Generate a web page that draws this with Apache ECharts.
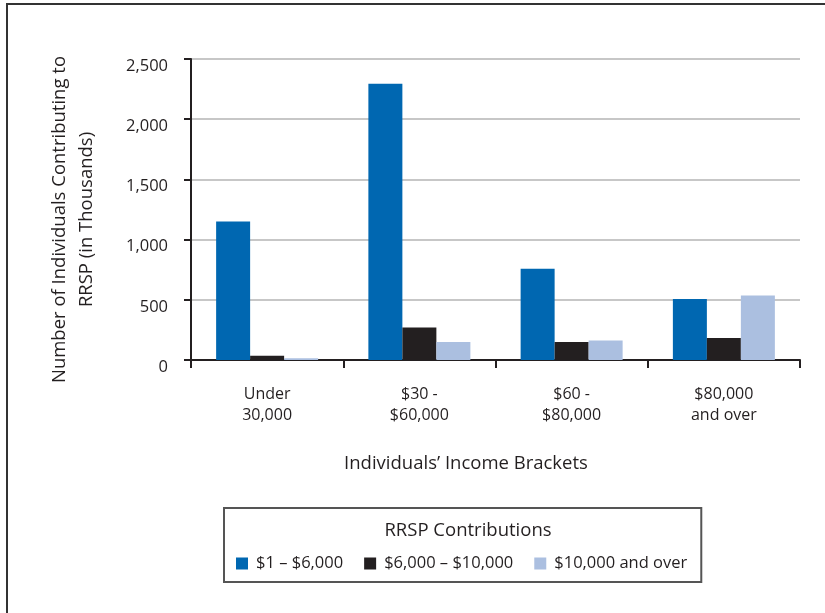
<!DOCTYPE html>
<html>
<head>
<meta charset="utf-8">
<script src="https://cdn.jsdelivr.net/npm/echarts@6/dist/echarts.min.js"></script>
<style>
  html, body { margin: 0; padding: 0; background: #fff; }
  #chart { width: 825px; height: 613px; }
</style>
</head>
<body>
<div id="chart"></div>
<script>
// income brackets on the x axis
const brackets = ['Under\n30,000', '$30 -\n$60,000', '$60 -\n$80,000', '$80,000\nand over'];
// RRSP contribution groups (thousands of individuals)
const seriesNames = ['$1 \u2013 $6,000', '$6,000 \u2013 $10,000', '$10,000 and over'];
const low = [1150, 2295, 758, 506];
const mid = [36, 269, 150, 183];
const high = [15, 150, 161, 536];
const colors = ['#0067b1', '#231f20', '#abbfe0'];

const font = 'Open Sans';
const ink = '#231f20';

const chart = echarts.init(document.getElementById('chart'));

const makeSeries = (name, data, i) => ({
    name: name,
    type: 'bar',
    data: data,
    barWidth: 34,
    barGap: 0,
    itemStyle: { color: colors[i] }
});

const option = {
    animation: false,
    backgroundColor: '#fff',
    textStyle: { fontFamily: font, color: ink },
    title: [
        {
            text: 'Individuals\u2019 Income Brackets',
            left: 461,
            top: 449,
            textAlign: 'center',
            textStyle: { fontFamily: font, fontSize: 18.5, fontWeight: 'normal', color: ink }
        },
        {
            text: 'RRSP Contributions',
            left: 463,
            top: 516,
            textAlign: 'center',
            textStyle: { fontFamily: font, fontSize: 18.5, fontWeight: 'normal', color: ink }
        }
    ],
    graphic: [
        {
            type: 'rect',
            shape: { x: 7, y: 4, width: 900, height: 700 },
            style: { fill: 'none', stroke: '#333', lineWidth: 2 },
            silent: true
        }
    ],
    legend: {
        data: seriesNames,
        left: 224,
        top: 508,
        orient: 'horizontal',
        icon: 'rect',
        itemWidth: 12,
        itemHeight: 12,
        itemGap: 21,
        padding: [47, 14, 10, 12],
        borderColor: '#555',
        borderWidth: 2,
        textStyle: { fontFamily: font, fontSize: 16.5, color: ink, padding: [0, 0, 0, 3] }
    },
    grid: { left: 191, right: 25, top: 59, bottom: 253 },
    xAxis: {
        type: 'category',
        data: brackets,
        axisLine: { lineStyle: { color: ink, width: 2 } },
        axisTick: { show: true, length: 8, lineStyle: { color: ink, width: 2 } },
        axisLabel: {
            fontFamily: font,
            fontSize: 16,
            color: ink,
            lineHeight: 21,
            margin: 24,
            interval: 0
        }
    },
    yAxis: {
        type: 'value',
        min: 0,
        max: 2500,
        interval: 500,
        name: 'Number of Individuals Contributing to\nRRSP (in Thousands)',
        nameLocation: 'middle',
        nameGap: 91,
        nameTextStyle: {
            fontFamily: font,
            fontSize: 18.5,
            color: ink,
            lineHeight: 27,
            padding: [0, 20, 0, 0]
        },
        axisLine: { show: true, lineStyle: { color: ink, width: 2 } },
        axisTick: { show: true, length: 7, lineStyle: { color: ink, width: 2 } },
        splitLine: { lineStyle: { color: '#b5b5b5', width: 1.5 } },
        axisLabel: {
            fontFamily: font,
            fontSize: 16.5,
            color: ink,
            margin: 23,
            verticalAlign: 'top',
            lineHeight: 14,
            formatter: (v) => v.toLocaleString('en-US')
        }
    },
    series: [
        makeSeries(seriesNames[0], low, 0),
        makeSeries(seriesNames[1], mid, 1),
        makeSeries(seriesNames[2], high, 2)
    ]
};

chart.setOption(option);
</script>
</body>
</html>
